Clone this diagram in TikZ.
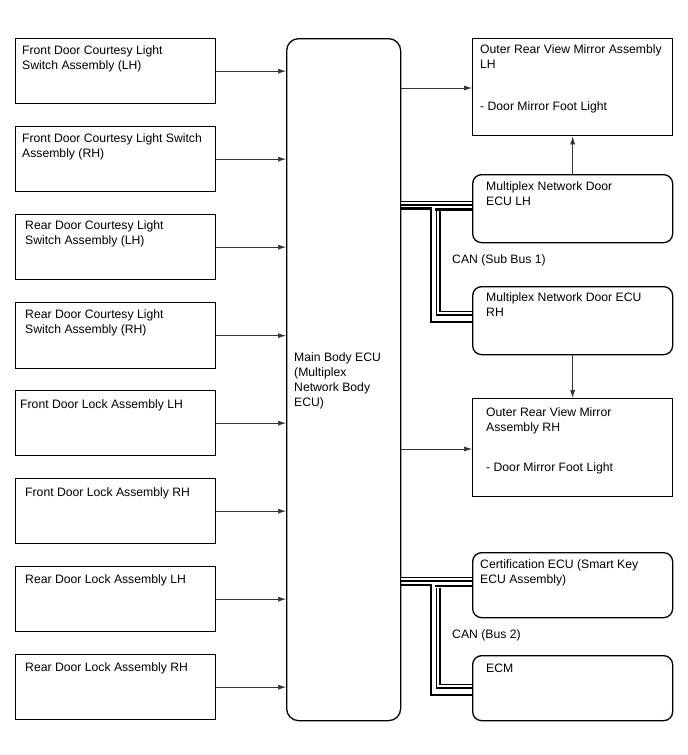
\documentclass[tikz,border=0pt]{standalone}
\usepackage{fontspec}
\setmainfont{Liberation Sans}
\usetikzlibrary{arrows.meta}
\tikzset{
  box/.style={draw=black, line width=1.3pt, minimum width=200pt, inner sep=0pt, anchor=north west},
  rbox/.style={box, rounded corners=9pt},
  txt/.style={inner sep=0pt, anchor=north west, align=left, font=\fontsize{12.2}{15}\selectfont},
  arr/.style={draw=black!80, line width=0.7pt, -{Latex[length=8pt,width=5pt]}},
  thickwire/.style={line width=2.8pt, black},
  dblwire/.style={double=white, double distance=2.4pt, line width=1.3pt, black}
}
\begin{document}
\begin{tikzpicture}[x=1pt,y=-1pt]
\useasboundingbox (0,0) rectangle (688,755);
\fill[white] (0,0) rectangle (688,755);
% left boxes
\node[box, minimum height=65pt] (b1) at (15,38) {};
\node[box, minimum height=65pt] (b2) at (15,126) {};
\node[box, minimum height=65pt] (b3) at (15,214) {};
\node[box, minimum height=66pt] (b4) at (15,302) {};
\node[box, minimum height=65pt] (b5) at (15,390) {};
\node[box, minimum height=65pt] (b6) at (15,478) {};
\node[box, minimum height=65pt] (b7) at (15,566) {};
\node[box, minimum height=65pt] (b8) at (15,654) {};
\node[txt] (t1) at (22,45) {Front Door Courtesy Light\\Switch Assembly (LH)};
\node[txt] (t2) at (22,133) {Front Door Courtesy Light Switch\\Assembly (RH)};
\node[txt] (t3) at (25,220) {Rear Door Courtesy Light\\Switch Assembly (LH)};
\node[txt] (t4) at (25,309) {Rear Door Courtesy Light\\Switch Assembly (RH)};
\node[txt] (t5) at (20,399) {Front Door Lock Assembly LH};
\node[txt] (t6) at (25,487) {Front Door Lock Assembly RH};
\node[txt] (t7) at (25,574) {Rear Door Lock Assembly LH};
\node[txt] (t8) at (25,662) {Rear Door Lock Assembly RH};
% main ECU
\node[box, rounded corners=12pt, minimum width=114pt, minimum height=682pt] (main) at (286,38) {};
\node[txt] (mt) at (294,352) {Main Body ECU\\(Multiplex\\Network Body\\ECU)};
% arrows left
\foreach \i in {1,...,8} {
  \draw[arr] (b\i.east) -- (main.west |- b\i.east);
}
% right boxes
\node[box, minimum height=97pt] (mlh) at (472,38) {};
\node[txt] (mlht) at (480,44) {Outer Rear View Mirror Assembly\\LH};
\node[txt] (mlht2) at (480,101) {- Door Mirror Foot Light};
\node[rbox, minimum height=68pt] (elh) at (472,174) {};
\node[txt] (elht) at (486,181) {Multiplex Network Door\\ECU LH};
\node[rbox, minimum height=68pt] (erh) at (472,286) {};
\node[txt] (erht) at (486,292) {Multiplex Network Door ECU\\RH};
\node[box, minimum height=98pt] (mrh) at (472,398) {};
\node[txt] (mrht) at (486,407) {Outer Rear View Mirror\\Assembly RH};
\node[txt] (mrht2) at (486,462) {- Door Mirror Foot Light};
\node[rbox, minimum height=65pt] (cert) at (472,552) {};
\node[txt] (certt) at (480,559) {Certification ECU (Smart Key\\ECU Assembly)};
\node[rbox, minimum height=65pt] (ecm) at (472,655) {};
\node[txt] (ecmt) at (486,664) {ECM};
\node[txt] (can1) at (452,254) {CAN (Sub Bus 1)};
\node[txt] (can2) at (452,629) {CAN (Bus 2)};
% arrows right
\coordinate (a1) at (400,88);
\draw[arr] (main.east |- a1) -- (mlh.west |- a1);
\coordinate (a2) at (400,449);
\draw[arr] (main.east |- a2) -- (mrh.west |- a2);
\draw[arr] (elh.north) -- (mlh.south);
\draw[arr] (erh.south) -- (mrh.north);
% CAN sub bus 1
\coordinate (k1a) at (431,208.5);
\coordinate (k1b) at (431,322);
\coordinate (k1c) at (435,209.5);
\draw[thickwire] (main.east |- k1a) -- (k1a) -- (k1b) -- (erh.west |- k1b);
\draw[thickwire] (k1c) -- (elh.west |- k1c);
\coordinate (d1a) at (400,203);
\coordinate (d1b) at (438,211);
\coordinate (d1c) at (438,313);
\draw[dblwire] (main.east |- d1a) -- (elh.west |- d1a);
\draw[dblwire] (d1b) -- (d1c) -- (erh.west |- d1c);
% CAN bus 2
\coordinate (k2a) at (431,585);
\coordinate (k2b) at (431,695);
\coordinate (k2c) at (435,586);
\draw[thickwire] (main.east |- k2a) -- (k2a) -- (k2b) -- (ecm.west |- k2b);
\draw[thickwire] (k2c) -- (cert.west |- k2c);
\coordinate (d2a) at (400,579);
\coordinate (d2b) at (438,587.5);
\coordinate (d2c) at (438,686);
\draw[dblwire] (main.east |- d2a) -- (cert.west |- d2a);
\draw[dblwire] (d2b) -- (d2c) -- (ecm.west |- d2c);
\end{tikzpicture}
\end{document}
